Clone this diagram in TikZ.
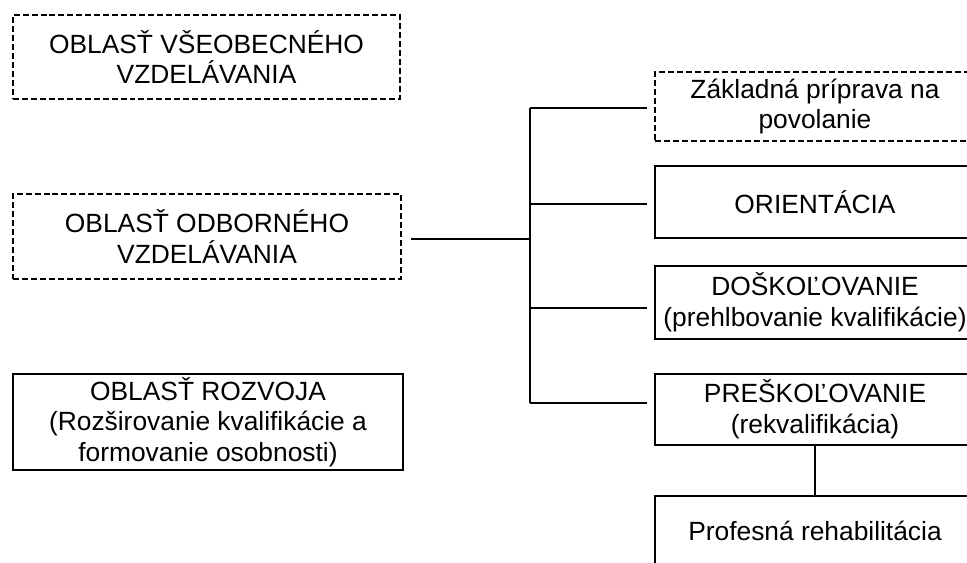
\documentclass[tikz,border=0pt]{standalone}
\usepackage{fontspec}
\setmainfont{Liberation Sans}
\usetikzlibrary{positioning}
\tikzset{>=stealth}
\tikzset{
	areabox/.style = {draw, line width=1.6pt, align=center, inner sep=0pt,
		font=\fontsize{15}{17.5}\selectfont},
	dashbox/.style = {areabox, line width=1.2pt, dash pattern=on 3.4pt off 1.7pt},
	branch/.style = {line width=0.6pt, shorten >=0.14cm},
	trunk/.style = {line width=1.6pt}
}

\begin{document}
\begin{tikzpicture}[x=0.02cm, y=-0.02cm]
	\clip (0,0) rectangle (967,563);
	\useasboundingbox (0,0) rectangle (967,563);
	% left column
	\node (vseob) at (206.5,57) [dashbox, minimum width=7.74cm, minimum height=1.68cm] {OBLASŤ VŠEOBECNÉHO\\VZDELÁVANIA};
	\node (odb) at (207,236.5) [dashbox, minimum width=7.76cm, minimum height=1.7cm] {OBLASŤ ODBORNÉHO\\VZDELÁVANIA};
	\node (rozv) at (208,422) [areabox, minimum width=7.8cm, minimum height=1.92cm] {OBLASŤ ROZVOJA\\(Rozširovanie kvalifikácie a\\formovanie osobnosti)};
	% right column
	\node (zakl) at (815,106.5) [dashbox, minimum width=6.4cm, minimum height=1.38cm] {Základná príprava na\\povolanie};
	\node (orient) at (815,202) [areabox, minimum width=6.4cm, minimum height=1.44cm] {ORIENTÁCIA};
	\node (dosk) at (815,302.5) [areabox, minimum width=6.4cm, minimum height=1.46cm] {DOŠKOĽOVANIE\\(prehlbovanie kvalifikácie)};
	\node (presk) at (815,409.5) [areabox, minimum width=6.4cm, minimum height=1.42cm] {PREŠKOĽOVANIE\\(rekvalifikácia)};
	\node (prof) at (815,531) [areabox, minimum width=6.4cm, minimum height=1.4cm] {Profesná rehabilitácia};
	% connectors
	\coordinate (hub) at (530,239);
	\coordinate (tail) at ([xshift=0.18cm]odb.east);
	\coordinate (j1) at (530,108);
	\coordinate (j2) at (530,204);
	\coordinate (j3) at (530,308);
	\coordinate (j4) at (530,403);
	\draw[trunk] (tail |- hub) -- (hub);
	\draw[line width=0.6pt] (j1) -- (j4);
	\draw[branch] (j1) -- (j1 -| zakl.west);
	\draw[branch] (j2) -- (j2 -| orient.west);
	\draw[branch] (j3) -- (j3 -| dosk.west);
	\draw[branch] (j4) -- (j4 -| presk.west);
	\draw[line width=0.6pt] (presk.south) -- (prof.north);
\end{tikzpicture}
\end{document}
